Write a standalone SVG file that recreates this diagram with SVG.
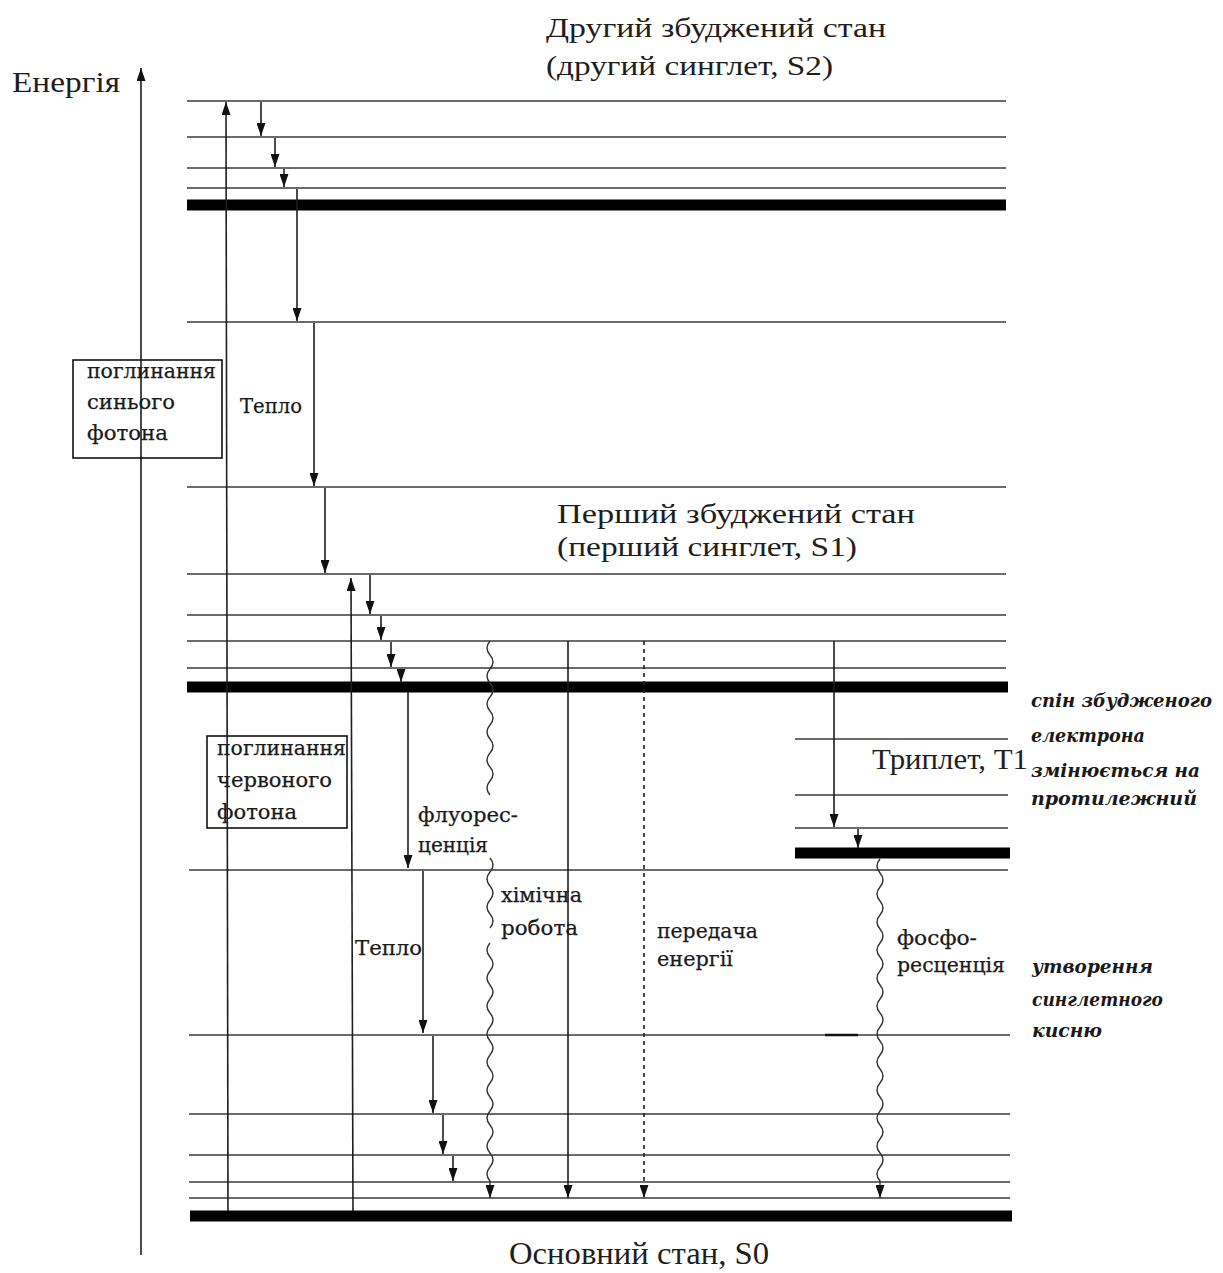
<svg xmlns="http://www.w3.org/2000/svg" width="1223" height="1273" viewBox="0 0 1223 1273">
  <style>
    .lvl { stroke: #3a3a3a; stroke-width: 1.6; }
    .thick { stroke: #000; stroke-width: 11; }
    .arr { stroke: #1e1e1e; stroke-width: 1.6; fill: none; marker-end: url(#ah); }
    .wave { stroke: #333; stroke-width: 1.4; fill: none; }
    .box { fill: none; stroke: #111; stroke-width: 1.6; }
    .title { font-family: "Liberation Serif", "Times New Roman", serif; fill: #1e1e1e; }
    .lbl { font-family: "DejaVu Serif", serif; font-size: 20px; fill: #1a1a1a; stroke: #1a1a1a; stroke-width: 0.25; }
    .note { font-family: "DejaVu Serif", serif; font-style: italic; font-weight: bold; font-size: 19px; fill: #1a1a1a; }
  </style>
  <defs>
    <marker id="ah" viewBox="0 0 13 9" refX="13" refY="4.5" markerWidth="13" markerHeight="9" orient="auto" markerUnits="userSpaceOnUse">
      <path d="M0,0 L13,4.5 L0,9 z" fill="#111"/>
    </marker>
  </defs>
  <rect width="1223" height="1273" fill="#fff"/>

  <!-- energy axis -->
  <g id="axis">
    <line class="arr" x1="141" y1="1255" x2="141" y2="68"/>
    <text class="title" x="12" y="92" font-size="29" textLength="108" lengthAdjust="spacingAndGlyphs">Енергія</text>
  </g>

  <!-- second excited singlet S2 -->
  <g id="s2">
    <line class="lvl" x1="187" y1="101" x2="1006" y2="101"/>
    <line class="lvl" x1="187" y1="137" x2="1006" y2="137"/>
    <line class="lvl" x1="187" y1="168" x2="1006" y2="168"/>
    <line class="lvl" x1="187" y1="188" x2="1006" y2="188"/>
    <line class="thick" x1="187" y1="205" x2="1006" y2="205"/>
    <text class="title" x="546" y="37" font-size="28" textLength="340" lengthAdjust="spacingAndGlyphs">Другий збуджений стан</text>
    <text class="title" x="546" y="75" font-size="28" textLength="287" lengthAdjust="spacingAndGlyphs">(другий синглет, S2)</text>
  </g>

  <!-- intermediate levels -->
  <g id="mid">
    <line class="lvl" x1="187" y1="322" x2="1006" y2="322"/>
    <line class="lvl" x1="187" y1="487" x2="1006" y2="487"/>
  </g>

  <!-- first excited singlet S1 -->
  <g id="s1">
    <line class="lvl" x1="187" y1="574" x2="1006" y2="574"/>
    <line class="lvl" x1="187" y1="615" x2="1006" y2="615"/>
    <line class="lvl" x1="187" y1="641" x2="1006" y2="641"/>
    <line class="lvl" x1="187" y1="668" x2="1006" y2="668"/>
    <line class="thick" x1="187" y1="687" x2="1008" y2="687"/>
    <text class="title" x="557" y="523" font-size="28" textLength="358" lengthAdjust="spacingAndGlyphs">Перший збуджений стан</text>
    <text class="title" x="557" y="556" font-size="28" textLength="300" lengthAdjust="spacingAndGlyphs">(перший синглет, S1)</text>
  </g>

  <!-- triplet T1 -->
  <g id="t1">
    <line class="lvl" x1="795" y1="739" x2="1008" y2="739"/>
    <line class="lvl" x1="795" y1="795" x2="1008" y2="795"/>
    <line class="lvl" x1="795" y1="828" x2="1008" y2="828"/>
    <line class="thick" x1="795" y1="853" x2="1010" y2="853"/>
    <text class="title" x="872" y="769" font-size="29" textLength="156" lengthAdjust="spacingAndGlyphs">Триплет, T1</text>
  </g>

  <!-- ground state S0 -->
  <g id="s0">
    <line class="lvl" x1="189" y1="870" x2="1008" y2="870"/>
    <line class="lvl" x1="189" y1="1035" x2="1010" y2="1035"/>
    <line stroke="#111" stroke-width="2.4" x1="825" y1="1035" x2="858" y2="1035"/>
    <line class="lvl" x1="189" y1="1114" x2="1010" y2="1114"/>
    <line class="lvl" x1="189" y1="1155" x2="1010" y2="1155"/>
    <line class="lvl" x1="189" y1="1182" x2="1010" y2="1182"/>
    <line class="lvl" x1="189" y1="1198" x2="1010" y2="1198"/>
    <line class="thick" x1="190" y1="1216" x2="1012" y2="1216"/>
    <text class="title" x="509" y="1264" font-size="31" textLength="260" lengthAdjust="spacingAndGlyphs">Основний стан, S0</text>
  </g>

  <!-- absorption label boxes -->
  <g id="blue-absorption">
    <rect class="box" x="73" y="360" width="149" height="98"/>
    <text class="lbl" x="87" y="378" textLength="129" lengthAdjust="spacingAndGlyphs">поглинання</text>
    <text class="lbl" x="87" y="409" textLength="88" lengthAdjust="spacingAndGlyphs">синього</text>
    <text class="lbl" x="87" y="440" textLength="81" lengthAdjust="spacingAndGlyphs">фотона</text>
  </g>
  <g id="red-absorption">
    <rect class="box" x="207" y="736" width="140" height="92"/>
    <text class="lbl" x="217" y="755" textLength="129" lengthAdjust="spacingAndGlyphs">поглинання</text>
    <text class="lbl" x="217" y="787" textLength="115" lengthAdjust="spacingAndGlyphs">червоного</text>
    <text class="lbl" x="217" y="819" textLength="80" lengthAdjust="spacingAndGlyphs">фотона</text>
  </g>

  <!-- process labels -->
  <g id="heat-upper"><text class="lbl" x="240" y="413" textLength="62" lengthAdjust="spacingAndGlyphs">Тепло</text></g>
  <g id="fluorescence">
    <text class="lbl" x="418" y="822" textLength="100" lengthAdjust="spacingAndGlyphs">флуорес-</text>
    <text class="lbl" x="418" y="852" textLength="70" lengthAdjust="spacingAndGlyphs">ценція</text>
  </g>
  <g id="heat-lower"><text class="lbl" x="355" y="955" textLength="67" lengthAdjust="spacingAndGlyphs">Тепло</text></g>
  <g id="chemical-work">
    <text class="lbl" x="501" y="902" textLength="81" lengthAdjust="spacingAndGlyphs">хімічна</text>
    <text class="lbl" x="501" y="935" textLength="77" lengthAdjust="spacingAndGlyphs">робота</text>
  </g>
  <g id="energy-transfer">
    <text class="lbl" x="657" y="938" textLength="101" lengthAdjust="spacingAndGlyphs">передача</text>
    <text class="lbl" x="657" y="966" textLength="76" lengthAdjust="spacingAndGlyphs">енергії</text>
  </g>
  <g id="phosphorescence">
    <text class="lbl" x="897" y="945" textLength="80" lengthAdjust="spacingAndGlyphs">фосфо-</text>
    <text class="lbl" x="897" y="972" textLength="108" lengthAdjust="spacingAndGlyphs">ресценція</text>
  </g>
  <g id="spin-flip-note">
    <text class="note" x="1031" y="707" textLength="181" lengthAdjust="spacingAndGlyphs">спін збудженого</text>
    <text class="note" x="1031" y="742" textLength="114" lengthAdjust="spacingAndGlyphs">електрона</text>
    <text class="note" x="1031" y="777" textLength="169" lengthAdjust="spacingAndGlyphs">змінюється на</text>
    <text class="note" x="1031" y="805" textLength="166" lengthAdjust="spacingAndGlyphs">протилежний</text>
  </g>
  <g id="singlet-oxygen-note">
    <text class="note" x="1032" y="973" textLength="121" lengthAdjust="spacingAndGlyphs">утворення</text>
    <text class="note" x="1032" y="1006" textLength="131" lengthAdjust="spacingAndGlyphs">синглетного</text>
    <text class="note" x="1032" y="1037" textLength="70" lengthAdjust="spacingAndGlyphs">кисню</text>
  </g>

  <!-- transitions -->
  <g id="connectors">
    <!-- absorptions -->
    <line class="arr" x1="228" y1="1211" x2="226" y2="102"/>
    <line class="arr" x1="353" y1="1211" x2="351" y2="578"/>
    <!-- relaxation cascade through S2 -->
    <line class="arr" x1="261" y1="102" x2="261" y2="136"/>
    <line class="arr" x1="275" y1="138" x2="275" y2="167"/>
    <line class="arr" x1="284" y1="169" x2="284" y2="187"/>
    <line class="arr" x1="297" y1="189" x2="297" y2="321"/>
    <line class="arr" x1="314" y1="323" x2="314" y2="486"/>
    <line class="arr" x1="325" y1="488" x2="325" y2="573"/>
    <!-- relaxation cascade through S1 -->
    <line class="arr" x1="370" y1="575" x2="370" y2="614"/>
    <line class="arr" x1="381" y1="616" x2="381" y2="640"/>
    <line class="arr" x1="391" y1="642" x2="391" y2="667"/>
    <line class="arr" x1="401" y1="669" x2="401" y2="682"/>
    <!-- fluorescence and heat down to S0 -->
    <line class="arr" x1="408" y1="692" x2="408" y2="868"/>
    <line class="arr" x1="423" y1="871" x2="423" y2="1033" stroke-width="2.4"/>
    <line class="arr" x1="433" y1="1036" x2="433" y2="1113"/>
    <line class="arr" x1="443" y1="1115" x2="443" y2="1154"/>
    <line class="arr" x1="453" y1="1156" x2="453" y2="1181"/>
    <!-- chemical work (wavy, interrupted by labels) -->
    <path class="wave" d="M490,641 q-6,7 0,14 t0,14 t0,14 t0,14 t0,14 t0,14 t0,14 t0,14 t0,14 t0,14 t0,14"/>
    <path class="wave" d="M490,858 q6,7 0,14 t0,14 t0,14 t0,14 t0,14"/>
    <path class="wave" d="M490,943 q-6,7 0,14 t0,14 t0,14 t0,14 t0,14 t0,14 t0,14 t0,14 t0,14 t0,14 t0,14 t0,14 t0,14 t0,14 t0,14 t0,14 t0,14 L490,1198" marker-end="url(#ah)"/>
    <!-- direct return and energy transfer -->
    <line class="arr" x1="568" y1="641" x2="568" y2="1198"/>
    <line class="arr" x1="644" y1="641" x2="644" y2="1198" stroke="#555" stroke-width="1.3" stroke-dasharray="4 4"/>
    <!-- intersystem crossing to T1 -->
    <line class="arr" x1="834" y1="641" x2="834" y2="827"/>
    <line class="arr" x1="858" y1="829" x2="858" y2="848"/>
    <!-- phosphorescence -->
    <path class="wave" d="M880,859 q-6,7 0,14 t0,14 t0,14 t0,14 t0,14 t0,14 t0,14 t0,14 t0,14 t0,14 t0,14 t0,14 t0,14 t0,14 t0,14 t0,14 t0,14 t0,14 t0,14 t0,14 t0,14 t0,14 t0,14 L880,1198" marker-end="url(#ah)"/>
  </g>
</svg>
